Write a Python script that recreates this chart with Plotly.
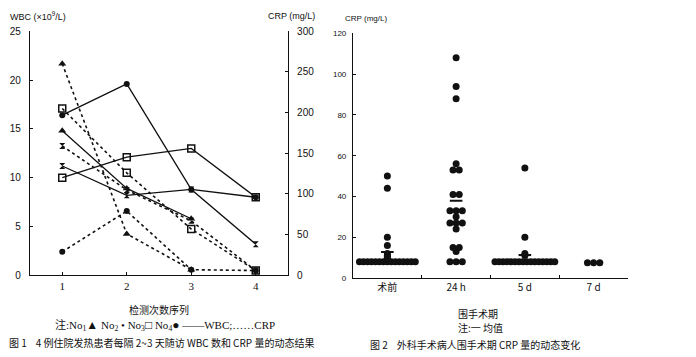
import plotly.graph_objects as go
import numpy as np

# ---------------- data: figure 1 ----------------
visits = [1, 2, 3, 4]
wbc_no1 = [14.8, 8.9, 5.8, None]
wbc_no2 = [11.2, 8.2, 8.8, 3.2]
wbc_no3 = [10.0, 12.1, 13.0, 8.0]
wbc_no4 = [16.4, 19.6, 8.8, 8.0]
crp_no1 = [260, 51, 7, None]
crp_no2 = [159, 105, 67, 6]
crp_no3 = [205, 126, 57, 6]
crp_no4 = [29, 79, 7, 6]

# ---------------- data: figure 2 ----------------
periods = ["术前", "24 h", "5 d", "7 d"]
crp_pre = [8] * 15 + [10, 10.5, 11, 12, 16, 20, 44, 50]
crp_24h = [108, 94, 88, 56, 53, 53, 41, 41, 33, 33, 33, 30, 27, 27, 27, 24, 15, 15, 13, 8, 8, 8]
crp_5d = [8] * 16 + [11, 12, 20, 54]
crp_7d = [7.5, 7.5, 7.5]

W, H = 696, 357
def px(x):
    return x / W
def py(y):
    return 1 - y / H

BLACK = "#111111"
SANS = "Liberation Sans, Arial, sans-serif"
SERIF = "Liberation Serif, Noto Sans CJK SC, serif"
CJK = "Noto Sans CJK SC, Liberation Serif, serif"

fig = go.Figure()

markers = [
    ("No1", wbc_no1, crp_no1, dict(symbol="triangle-up", size=7, color=BLACK)),
    ("No2", wbc_no2, crp_no2, dict(symbol="hourglass", size=6, color=BLACK)),
    ("No3", wbc_no3, crp_no3, dict(symbol="square-open", size=7, color=BLACK, line=dict(width=1.5, color=BLACK))),
    ("No4", wbc_no4, crp_no4, dict(symbol="circle", size=6, color=BLACK)),
]
for name, w, c, mk in markers:
    fig.add_trace(go.Scatter(x=visits, y=w, mode="lines+markers", name=name + " WBC",
                             line=dict(color=BLACK, width=1.3), marker=mk,
                             xaxis="x", yaxis="y", showlegend=False, connectgaps=False))
    fig.add_trace(go.Scatter(x=visits, y=c, mode="lines+markers", name=name + " CRP",
                             line=dict(color=BLACK, width=1.6, dash="dot"), marker=mk,
                             xaxis="x", yaxis="y2", showlegend=False, connectgaps=False))

# ---------------- figure 2 swarm ----------------
def swarm(values, center):
    groups = {}
    for v in values:
        groups.setdefault(v, []).append(v)
    xs, ys = [], []
    for v, g in groups.items():
        n = len(g)
        sp = 0.058 if n > 4 else 0.09
        for i in range(n):
            xs.append(center + (i - (n - 1) / 2) * sp)
            ys.append(v)
    return xs, ys

all_x, all_y, mean_x, mean_y = [], [], [], []
for i, vals in enumerate([crp_pre, crp_24h, crp_5d, crp_7d]):
    xs, ys = swarm(vals, i + 1)
    all_x += xs
    all_y += ys
    mean_x.append(i + 1)
    mean_y.append(float(np.mean(vals)))

fig.add_trace(go.Scatter(x=all_x, y=all_y, mode="markers",
                         marker=dict(symbol="circle", size=7, color=BLACK),
                         xaxis="x2", yaxis="y3", showlegend=False))
fig.add_trace(go.Scatter(x=mean_x, y=mean_y, mode="markers",
                         marker=dict(symbol="line-ew-open", size=9, color=BLACK,
                                     line=dict(width=2, color=BLACK)),
                         xaxis="x2", yaxis="y3", showlegend=False))

axis_common = dict(showgrid=False, zeroline=False, showline=True, linecolor=BLACK,
                   linewidth=1.2, tickcolor=BLACK)

fig.update_layout(
    width=W, height=H,
    margin=dict(l=0, r=0, t=0, b=0),
    paper_bgcolor="white", plot_bgcolor="white",
    xaxis=dict(domain=[px(30), px(288)], range=[0.5, 4.5], tickvals=visits,
               ticktext=[str(v) for v in visits], ticks="inside", ticklen=3,
               tickfont=dict(family=SERIF, size=11, color=BLACK), anchor="y", **axis_common),
    yaxis=dict(domain=[py(279), py(27)], range=[0, 25], tickvals=[0, 5, 10, 15, 20, 25],
               ticks="inside", ticklen=3, ticklabelstandoff=6,
               tickfont=dict(family=SANS, size=10, color=BLACK), anchor="x", **axis_common),
    yaxis2=dict(range=[0, 300], tickvals=[0, 50, 100, 150, 200, 250, 300], overlaying="y",
                side="right", anchor="x", ticks="inside", ticklen=3, ticklabelstandoff=6,
                tickfont=dict(family=SANS, size=10, color=BLACK), **axis_common),
    xaxis2=dict(domain=[px(353), px(628)], range=[0.5, 4.5], tickvals=[1, 2, 3, 4],
                ticktext=periods, ticks="", anchor="y3",
                minor=dict(tickvals=[1.5, 2.5, 3.5], ticks="inside", ticklen=3, tickcolor=BLACK),
                tickfont=dict(family=CJK, size=10, color=BLACK), **axis_common),
    yaxis3=dict(domain=[py(281.7), py(29.3)], range=[0, 120], tickvals=[0, 20, 40, 60, 80, 100, 120],
                ticks="inside", ticklen=3, ticklabelstandoff=4, anchor="x2",
                tickfont=dict(family=SANS, size=8, color=BLACK), **axis_common),
)

def big(s):
    return "<span style='font-size:12px'>" + s + "</span>"

note1 = ("注:No<sub>1</sub>" + big("▲") + " No<sub>2</sub> • No<sub>3</sub>" + big("□")
         + " No<sub>4</sub>" + big("●") + " ——WBC;……CRP")

ann = [
    (8, 11, "WBC (×10<sup>9</sup>/L)", "left", SANS, 9),
    (291, 11, "CRP (mg/L)", "center", SANS, 9),
    (159, 314, "检测次数序列", "center", CJK, 10),
    (165, 331, note1, "center", SERIF, 11),
    (7, 348, "图 1    4 例住院发热患者每隔 2~3 天随访 WBC 数和 CRP 量的动态结果", "left", CJK, 10),
    (343, 14, "CRP (mg/L)", "left", SANS, 8),
    (478, 318, "围手术期", "center", CJK, 10),
    (480, 333, "注:一 均值", "center", CJK, 10),
    (368, 350, "图 2    外科手术病人围手术期 CRP 量的动态变化", "left", CJK, 10),
]
for x, y, t, al, fam, sz in ann:
    fig.add_annotation(x=px(x), y=py(y), xref="paper", yref="paper", text=t, showarrow=False,
                       xanchor=al, yanchor="middle", font=dict(family=fam, size=sz, color=BLACK))

fig.write_html("out.html", config={"displayModeBar": False},
               post_script="document.body.style.margin='0';")
